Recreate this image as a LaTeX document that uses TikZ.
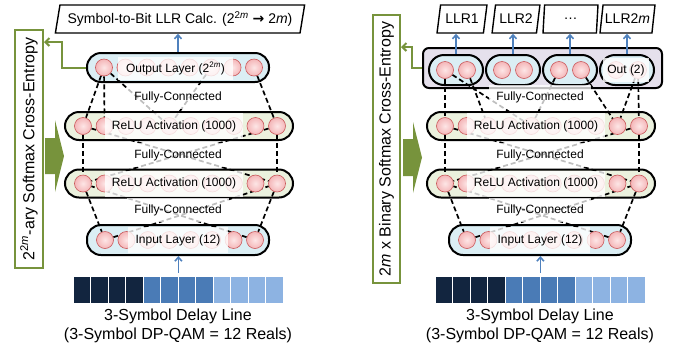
\documentclass[tikz,border=0pt]{standalone}
\usepackage{fontspec}
\setmainfont{Liberation Sans}
\newfontfamily\symfont{DejaVu Sans}
\usetikzlibrary{shapes.geometric,arrows.meta}
\definecolor{gr}{HTML}{77933C}
\definecolor{bl}{HTML}{4F81BD}
\definecolor{pblue}{HTML}{DBEEF4}
\definecolor{pgreen}{HTML}{EBF1DE}
\definecolor{ppurp}{HTML}{E5E0EC}
\definecolor{neufill}{HTML}{F4B6B8}
\definecolor{neuin}{HTML}{FDE6E6}
\definecolor{neudraw}{HTML}{C9585A}
\definecolor{cdark}{HTML}{12253F}
\definecolor{cmid}{HTML}{4A7BB6}
\definecolor{clight}{HTML}{8DB3E2}
\pgfdeclarelayer{bg}\pgfdeclarelayer{ln}\pgfdeclarelayer{fg}
\pgfsetlayers{bg,ln,main,fg}
\tikzset{
 pill/.style={draw=black, line width=2pt, rounded corners=14pt, minimum height=28pt, inner sep=0pt},
 neuron/.style={circle, draw=neudraw, inner color=neuin, outer color=neufill, line width=0.6pt, minimum size=17pt, inner sep=0pt},
 lbl/.style={fill=white, fill opacity=0.8, text opacity=1, inner sep=0pt, font=\fontsize{12}{14}\selectfont},
 fclbl/.style={fill=white, fill opacity=0.75, text opacity=1, inner xsep=7pt, inner ysep=6pt, font=\fontsize{12}{14}\selectfont},
 conn/.style={draw=black, line width=1.7pt, dash pattern=on 5pt off 3pt},
 barrow/.style={draw=bl, line width=1.6pt, -{Straight Barb[length=4pt,width=7pt]}},
 garrow/.style={draw=gr, line width=2pt, -{Straight Barb[length=4pt,width=8pt]}},
 gbox/.style={draw=gr, line width=2pt, fill=white, inner sep=0pt},
 gtext/.style={rotate=90, font=\fontsize{16}{19}\selectfont},
 para/.style={trapezium, trapezium left angle=74, trapezium right angle=106, trapezium stretches=true, draw=black, line width=1.4pt, fill=white, inner sep=0pt},
 cell/.style={draw=white, line width=0.8pt, minimum width=17.5pt, minimum height=27pt, inner sep=0pt},
 captxt/.style={align=center, font=\fontsize{16}{19}\selectfont},
}
\begin{document}
\begin{tikzpicture}[x=1pt,y=-1pt]
\useasboundingbox (0,0) rectangle (678,349);
% ---------- common parts of both panels ----------
\foreach \p/\dx in {L/0,R/362} {
  \begin{pgfonlayer}{bg}
    \node[pill, fill=pgreen, minimum width=228pt] (\p a) at ({179+\dx},126) {};
    \node[pill, fill=pgreen, minimum width=228pt] (\p b) at ({179+\dx},183.5) {};
    \node[pill, fill=pblue, minimum width=182pt, minimum height=30pt] (\p i) at ({178+\dx},240) {};
  \end{pgfonlayer}
  \foreach \i in {1,...,10} {
    \node[neuron] (\p a\i) at ({83+\dx+(\i-1)*21.56},126) {};
    \node[neuron] (\p b\i) at ({83+\dx+(\i-1)*21.56},183.5) {};
  }
  \foreach \i in {1,...,8} {
    \node[neuron] (\p i\i) at ({105+\dx+(\i-1)*21.43},240) {};
  }
  \begin{pgfonlayer}{fg}
    \node[lbl, minimum width=138pt, minimum height=26pt] (\p al) at ({174+\dx},126) {ReLU Activation (1000)};
    \node[lbl, minimum width=138pt, minimum height=26pt] (\p bl) at ({174+\dx},183.5) {ReLU Activation (1000)};
    \node[lbl, minimum width=100pt, minimum height=26pt] (\p il) at ({178+\dx},240) {Input Layer (12)};
  \end{pgfonlayer}
  \begin{pgfonlayer}{ln}
    \draw[conn] (\p a1) -- (\p b1);
    \draw[conn] (\p a10) -- (\p b10);
    \draw[conn] (\p a1) -- (\p b10);
    \draw[conn] (\p a10) -- (\p b1);
    \draw[conn] (\p b1) -- (\p i1);
    \draw[conn] (\p b10) -- (\p i8);
    \draw[conn] (\p i1) -- (\p b10);
    \draw[conn] (\p i8) -- (\p b1);
  \end{pgfonlayer}
  \node[fclbl] (\p fa) at ({178+\dx},97) {Fully-Connected};
  \node[fclbl] (\p fb) at ({178+\dx},155) {Fully-Connected};
  \node[fclbl] (\p fc) at ({178+\dx},210) {Fully-Connected};
  \foreach \i in {1,...,4} {
    \node[cell, fill=cdark] (\p d\i) at ({81.75+\dx+(\i-1)*17.5},289.5) {};
  }
  \foreach \i in {5,...,8} {
    \node[cell, fill=cmid] (\p d\i) at ({81.75+\dx+(\i-1)*17.5},289.5) {};
  }
  \foreach \i in {9,...,12} {
    \node[cell, fill=clight] (\p d\i) at ({81.75+\dx+(\i-1)*17.5},289.5) {};
  }
  \draw[barrow, shorten <=3pt] (\p d6.north east) -- (\p d6.north east |- \p i.south);
  \node[captxt] (\p cap) at ({178+\dx},325.5) {3-Symbol Delay Line\\(3-Symbol DP-QAM = 12 Reals)};
}
% ---------- left panel ----------
\node[gbox, minimum width=28pt, minimum height=238pt] (Lg) at (29,149) {};
\node[gtext] (Lgt) at (Lg) {2\textsuperscript{2\textit{m}}-ary Softmax Cross-Entropy};
\fill[gr] (45,138) -- (55,138) -- (55,120) -- (64,156) -- (55,192) -- (55,174) -- (45,174) -- cycle;
\node[para, minimum width=250pt, minimum height=28pt, font=\fontsize{14}{16}\selectfont] (Lt) at (180,19)
  {Symbol-to-Bit LLR Calc. (2\textsuperscript{2\textit{m}} {\symfont\bfseries →} 2\textit{m})};
\begin{pgfonlayer}{bg}
  \node[pill, fill=pblue, minimum width=182pt, minimum height=29pt] (Lo) at (178,67.5) {};
\end{pgfonlayer}
\foreach \i in {1,...,8} {
  \node[neuron] (Lo\i) at ({104+(\i-1)*21.43},67.5) {};
}
\begin{pgfonlayer}{fg}
  \node[lbl, minimum width=115pt, minimum height=23pt] (Lol) at (175.5,68.5) {Output Layer (2\textsuperscript{2\textit{m}})};
\end{pgfonlayer}
\begin{pgfonlayer}{ln}
  \draw[conn] (Lo1) -- (La1);
  \draw[conn] (Lo1) -- (La2);
  \draw[conn] (Lo1) -- (La5);
  \draw[conn] (Lo6) -- (La5);
  \draw[conn] (Lo8) -- (La10);
\end{pgfonlayer}
\draw[barrow] (Lo.north) -- (Lo.north |- Lt.south);
\draw[garrow] (Lo.west) -- ++(-24,0) |- ([yshift=-13pt]Lg.north east);
% ---------- right panel ----------
\node[gbox, minimum width=27pt, minimum height=268pt] (Rg) at (386.5,149) {};
\node[gtext] (Rgt) at (Rg) {2\textit{m} x Binary Softmax Cross-Entropy};
\fill[gr] (403,139) -- (413,139) -- (413,122) -- (422,157.5) -- (413,193) -- (413,176) -- (403,176) -- cycle;
\begin{pgfonlayer}{bg}
  \node[draw=black, line width=2pt, fill=ppurp, rounded corners=6pt, minimum width=239pt, minimum height=40pt, inner sep=0pt] (Ro) at (542.5,68) {};
  \foreach \g/\cx in {1/456,2/513,3/570,4/627} {
    \node[pill, fill=pblue, minimum width=54pt, minimum height=30pt, rounded corners=15pt] (G\g) at (\cx,70) {};
  }
\end{pgfonlayer}
\foreach \g/\cx in {1/456,2/513,3/570,4/627} {
  \node[neuron] (G\g a) at ({\cx-11},70) {};
  \node[neuron] (G\g b) at ({\cx+11},70) {};
}
\begin{pgfonlayer}{fg}
  \node[lbl, minimum width=46pt, minimum height=24pt] (G4l) at (626,70) {Out (2)};
\end{pgfonlayer}
\node[para, minimum width=50pt, minimum height=28pt, font=\fontsize{14}{16}\selectfont] (Y1) at (462,19) {LLR1};
\node[para, minimum width=48pt, minimum height=28pt, font=\fontsize{14}{16}\selectfont] (Y2) at (516,19) {LLR2};
\node[para, minimum width=55pt, minimum height=28pt, font=\fontsize{14}{16}\selectfont] (Y3) at (570.5,19) {\ldots};
\node[para, minimum width=55pt, minimum height=28pt, font=\fontsize{14}{16}\selectfont] (Y4) at (627.5,19) {LLR2\textit{m}};
\foreach \g in {1,...,4} {
  \draw[barrow] (G\g.north) -- (G\g.north |- Y\g.south);
}
\begin{pgfonlayer}{ln}
  \draw[conn] (G1a) -- (Ra1);
  \draw[conn] (G1a) -- (Ra5);
  \draw[conn] (G1b) -- (Ra3);
  \draw[conn] (G3a) -- (Ra5);
  \draw[conn] (G3b) -- (Ra9);
  \draw[conn] (G4b) -- (Ra9);
  \draw[conn] (G4b) -- (Ra10);
\end{pgfonlayer}
\draw[garrow] (Ro.west) -- ++(-10,0) |- ([yshift=-33pt]Rg.north east);
\end{tikzpicture}
\end{document}
